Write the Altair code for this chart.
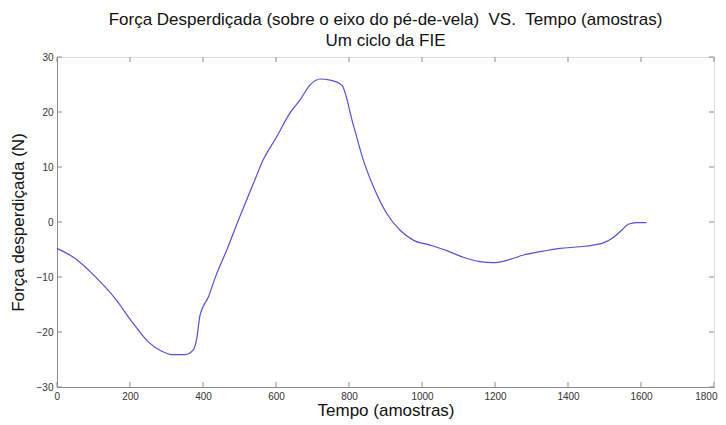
import altair as alt
import pandas as pd

# Data
samples = [0, 49, 104, 159, 205, 250, 287, 314, 351, 373, 383, 392, 415, 433,
           465, 501, 538, 565, 602, 638, 666, 693, 721, 748, 780, 812, 839, 867,
           903, 940, 976, 1022, 1068, 1113, 1159, 1195, 1241, 1278, 1323, 1378,
           1433, 1469, 1497, 1524, 1547, 1565, 1588, 1615]
force = [-4.8, -6.6, -9.9, -13.9, -18.1, -21.8, -23.5, -24.1, -24.1, -23.3, -21.1,
         -16.9, -13.6, -10.2, -5.1, 1.0, 7.0, 11.3, 15.5, 19.8, 22.2, 24.9, 26.0,
         25.8, 24.9, 17.6, 11.3, 6.4, 1.6, -1.5, -3.3, -4.2, -5.2, -6.4, -7.2,
         -7.4, -6.8, -6.0, -5.4, -4.8, -4.5, -4.2, -3.8, -2.8, -1.5, -0.4, -0.1, -0.1]

x_ticks = [0, 200, 400, 600, 800, 1000, 1200, 1400, 1600, 1800]
y_ticks = [-30, -20, -10, 0, 10, 20, 30]

title_lines = ["Força Desperdiçada (sobre o eixo do pé-de-vela)\u00a0\u00a0VS.\u00a0\u00a0Tempo (amostras)",
               "Um ciclo da FIE"]
x_title = "Tempo (amostras)"
y_title = "Força desperdiçada (N)"

W, H = 657, 330
FONT = "Liberation Sans"
GRAY = "#8a8a8a"

df = pd.DataFrame({"t": samples, "f": force})
xt = pd.DataFrame({"t": x_ticks})
yt = pd.DataFrame({"f": y_ticks})

xs = alt.Scale(domain=[0, 1800], nice=False, zero=False)
ys = alt.Scale(domain=[-30, 30], nice=False, zero=False)

x_axis = alt.Axis(values=x_ticks, format="d", ticks=False, grid=False,
                  domainColor=GRAY, labelFontSize=10, labelColor="#333",
                  labelPadding=4, titleFontSize=17, titleFont=FONT,
                  titleFontWeight="normal", titleColor="#111",
                  titlePadding=1, labelFont=FONT, labelFlush=True,
                  labelFlushOffset=3)
y_axis = alt.Axis(values=y_ticks, format="d", ticks=False, grid=False,
                  domainColor=GRAY, labelFontSize=10, labelColor="#333",
                  labelPadding=4, titleFontSize=17, titleFont=FONT,
                  titleFontWeight="normal", titleColor="#111",
                  titlePadding=9, labelFont=FONT, labelFlush=False)

X = alt.X("t:Q", scale=xs, title=x_title, axis=x_axis)
Y = alt.Y("f:Q", scale=ys, title=y_title, axis=y_axis)

line = alt.Chart(df).mark_line(color="#5252d0", strokeWidth=1.2,
                               interpolate="monotone").encode(x=X, y=Y)

tick_len = 5
xb = alt.Chart(xt).mark_rule(color=GRAY).encode(
    x=X, y=alt.value(H), y2=alt.value(H - tick_len))
xtp = alt.Chart(xt).mark_rule(color=GRAY).encode(
    x=X, y=alt.value(0), y2=alt.value(tick_len))
yl = alt.Chart(yt).mark_rule(color=GRAY).encode(
    y=Y, x=alt.value(0), x2=alt.value(tick_len))
yr = alt.Chart(yt).mark_rule(color=GRAY).encode(
    y=Y, x=alt.value(W), x2=alt.value(W - tick_len))

chart = alt.layer(line, xb, xtp, yl, yr).properties(
    width=W, height=H,
    title=alt.TitleParams(text=title_lines, fontSize=17, font=FONT,
                          fontWeight="normal", color="#111", anchor="middle",
                          offset=2, lineHeight=21),
    autosize=alt.AutoSizeParams(type="none"),
    padding={"left": 49, "top": 49, "right": 4, "bottom": 37},
).configure_view(stroke=GRAY, strokeWidth=1).configure(background="white")

chart.save("out.html", embed_options={"renderer": "svg", "actions": False})
